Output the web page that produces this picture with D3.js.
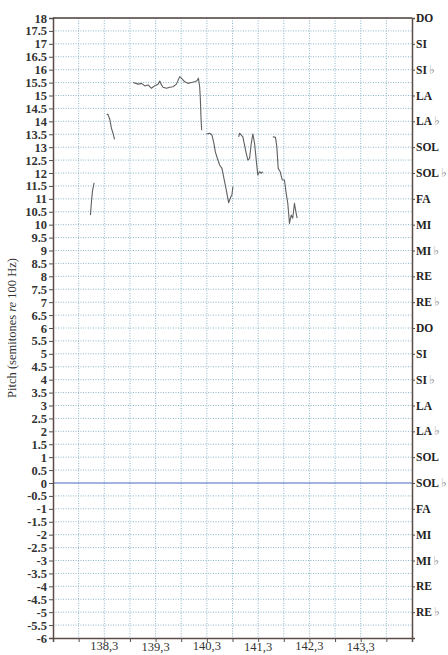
<!DOCTYPE html>
<html><head><meta charset="utf-8">
<script src="https://cdn.jsdelivr.net/npm/d3@7"></script>
<style>body{margin:0;background:#fff}svg{display:block}</style>
</head><body>
<script>
// ---- data ----
const xTickLabels = ["138,3","139,3","140,3","141,3","142,3","143,3"];
const xLabelValues = [138.3,139.3,140.3,141.3,142.3,143.3];
const noteNames = ["DO","SI","SI","LA","LA","SOL","SOL","FA","MI","MI","RE","RE","DO","SI","SI","LA","LA","SOL","SOL","FA","MI","MI","RE","RE"];
const noteFlat  = [false,false,true,false,true,false,true,false,false,true,false,true,false,false,true,false,true,false,true,false,false,true,false,true];
const noteValues = [18,17,16,15,14,13,12,11,10,9,8,7,6,5,4,3,2,1,0,-1,-2,-3,-4,-5];
const seg1 = [[138.03,10.37],[138.05,10.9],[138.07,11.3],[138.10,11.62]];
const seg2 = [[138.345,14.25],[138.37,14.28],[138.41,14.05],[138.44,13.73],[138.47,13.54],[138.50,13.30]];
const seg3 = [[138.862,15.50],[138.96,15.44],[139.026,15.47],[139.09,15.37],[139.154,15.41],[139.22,15.28],[139.284,15.38],[139.349,15.44],[139.382,15.56],[139.415,15.41],[139.446,15.32],[139.512,15.28],[139.576,15.32],[139.64,15.34],[139.707,15.44],[139.771,15.73],[139.804,15.67],[139.868,15.53],[139.932,15.47],[139.998,15.50],[140.063,15.53],[140.107,15.57],[140.135,15.67],[140.16,15.34],[140.174,14.83],[140.185,14.18],[140.199,13.66]];
const seg4 = [[140.29,13.51],[140.355,13.54],[140.40,13.47],[140.438,13.15],[140.465,12.82],[140.504,12.57],[140.549,12.31],[140.594,12.18],[140.633,11.79],[140.679,11.34],[140.724,10.85],[140.763,11.06],[140.788,11.15],[140.808,11.47]];
const seg5 = [[140.92,13.40],[140.938,13.54],[141.002,13.40],[141.068,12.76],[141.10,12.50],[141.133,12.57],[141.166,13.15],[141.197,13.51],[141.23,13.15],[141.263,12.50],[141.294,11.92],[141.327,12.05],[141.36,11.99],[141.39,12.05]];
const seg6 = [[141.586,13.40],[141.638,13.38],[141.664,13.02],[141.691,12.18],[141.73,12.05],[141.769,11.73],[141.813,11.73],[141.847,11.21],[141.878,10.83],[141.911,10.05],[141.944,10.37],[141.975,10.25],[142.008,10.83],[142.041,10.44],[142.061,10.25]];
const segments = [seg1,seg2,seg3,seg4,seg5,seg6];

// ---- layout ----
const W = 448, H = 655;
const m = {left:53, right:412, top:18, bottom:638};
const svg = d3.select("body").append("svg").attr("width",W).attr("height",H);
const x = d3.scaleLinear().domain([137.3,144.3]).range([m.left,m.right]);
const y = d3.scaleLinear().domain([-6,18]).range([m.bottom,m.top]);
const font = "'Liberation Serif','Times New Roman',serif";
const gridColor = "#8db6c9";

const yTicks = d3.range(-6,18.001,0.5);
const xTicks = d3.range(137.8,144.3,0.5);

// grid
svg.append("g").selectAll("line").data(yTicks.filter(v=>v>-6&&v<18&&v!==0)).join("line")
  .attr("x1",m.left).attr("x2",m.right).attr("y1",d=>y(d)).attr("y2",d=>y(d))
  .attr("stroke",gridColor).attr("stroke-width",1).attr("stroke-dasharray","1,1.5");
svg.append("g").selectAll("line").data(xTicks).join("line")
  .attr("y1",m.top).attr("y2",m.bottom).attr("x1",d=>x(d)).attr("x2",d=>x(d))
  .attr("stroke",gridColor).attr("stroke-width",1).attr("stroke-dasharray","1,1.5");

// zero line
svg.append("line").attr("x1",m.left).attr("x2",m.right).attr("y1",y(0)).attr("y2",y(0))
  .attr("stroke","#4a68c0").attr("stroke-width",1.2);

// left axis
const yAxis = d3.axisLeft(y).tickValues(yTicks).tickSize(4).tickPadding(2)
  .tickFormat(d=>String(d));
const gy = svg.append("g").attr("transform",`translate(${m.left},0)`).call(yAxis);
gy.select(".domain").attr("stroke","#5a4d48").attr("stroke-width",1.5);
gy.selectAll(".tick line").attr("stroke","#5a4d48");
gy.selectAll("text").attr("font-family",font).attr("font-size",12.5).attr("font-weight","bold").attr("fill","#333");

// bottom axis
const xAxis = d3.axisBottom(x).tickValues(xTicks.concat([144.3])).tickSize(4).tickFormat("");
const gx = svg.append("g").attr("transform",`translate(0,${m.bottom})`).call(xAxis);
gx.select(".domain").attr("stroke","#5a4d48").attr("stroke-width",1.5);
gx.selectAll(".tick line").attr("stroke","#5a4d48");
svg.append("g").selectAll("text").data(xLabelValues).join("text")
  .attr("x",d=>x(d)).attr("y",(d,i)=>650 + (i%2? 0.5:0)).attr("text-anchor","middle")
  .attr("font-family",font).attr("font-size",12.5).attr("fill","#333")
  .text((d,i)=>xTickLabels[i]);

// top border
svg.append("line").attr("x1",m.left).attr("x2",m.right).attr("y1",m.top).attr("y2",m.top)
  .attr("stroke","#4a3d38").attr("stroke-width",1.5);

// right axis
const rAxis = d3.axisRight(y).tickValues(noteValues).tickSize(3).tickFormat("");
const gr = svg.append("g").attr("transform",`translate(${m.right},0)`).call(rAxis);
gr.select(".domain").attr("stroke","#5a4d48").attr("stroke-width",1.5);
gr.selectAll(".tick line").attr("stroke","#5a4d48");
const rl = svg.append("g").selectAll("text").data(noteValues).join("text")
  .attr("x",m.right+4).attr("y",d=>y(d)+4)
  .attr("font-family",font).attr("font-size",11.5).attr("font-weight","bold").attr("fill","#222");
rl.append("tspan").text((d,i)=>noteNames[i]);
rl.filter((d,i)=>noteFlat[i]).append("tspan").attr("dx",2).attr("font-weight","normal")
  .attr("fill","#888").attr("font-family","'DejaVu Sans',sans-serif").attr("font-size",12).text("\u266D");

// y title
const t = svg.append("text").attr("transform",`translate(16,${y(6)}) rotate(-90)`)
  .attr("text-anchor","middle").attr("font-family",font).attr("font-size",12.5).attr("fill","#333");
t.append("tspan").text("Pitch (semitones ");
t.append("tspan").attr("font-style","italic").text("re");
t.append("tspan").text(" 100 Hz)");

// pitch curves
const line = d3.line().x(d=>x(d[0])).y(d=>y(d[1]));
svg.append("g").selectAll("path").data(segments).join("path")
  .attr("d",line).attr("fill","none").attr("stroke","#606060").attr("stroke-width",1.1)
  .attr("stroke-linejoin","round");
</script>
</body></html>
